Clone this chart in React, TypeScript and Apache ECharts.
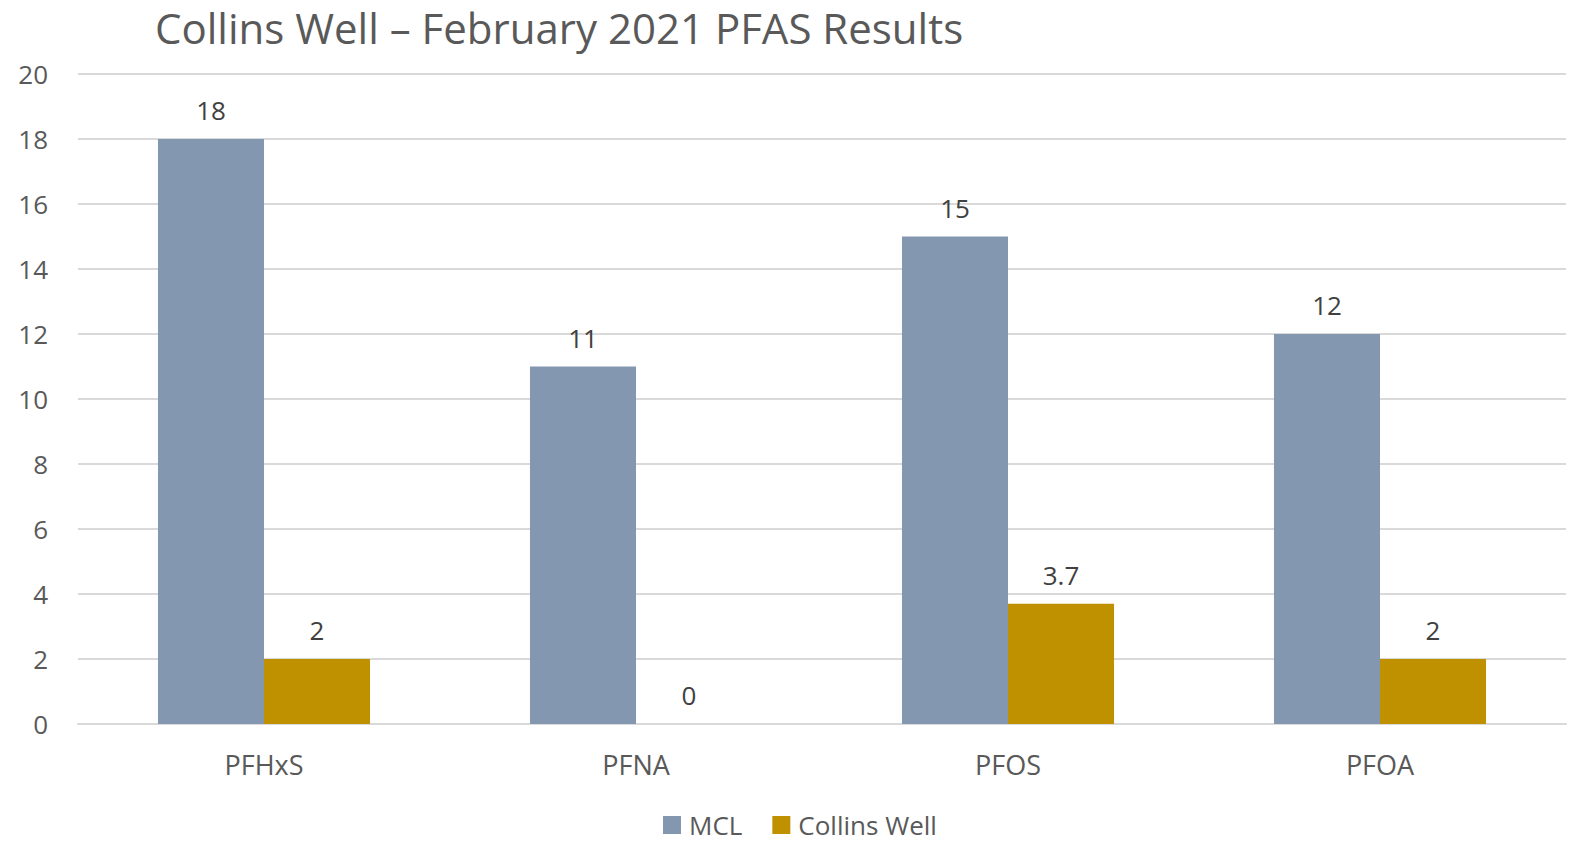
import React, { useEffect, useRef } from "react";
import * as echarts from "echarts";

const categories = ["PFHxS", "PFNA", "PFOS", "PFOA"];
const mclValues = [18, 11, 15, 12];
const collinsValues = [2, 0, 3.7, 2];
const yTicks = { min: 0, max: 20, interval: 2 };

const FONT = "Open Sans";

export default function App() {
  const ref = useRef<HTMLDivElement>(null);
  useEffect(() => {
    const chart = echarts.init(ref.current!, null, { renderer: "svg" });
    chart.setOption({
      animation: false,
      textStyle: { fontFamily: FONT },
      title: {
        text: "Collins Well – February 2021 PFAS Results",
        left: 155,
        top: 4,
        padding: 0,
        textStyle: { fontFamily: FONT, fontSize: 42, lineHeight: 46, fontWeight: "normal", color: "#595959" },
      },
      legend: {
        top: 810,
        left: 663,
        padding: 0,
        itemWidth: 18,
        itemHeight: 18,
        itemGap: 30,
        icon: "rect",
        textStyle: { fontFamily: FONT, fontSize: 26, lineHeight: 30, color: "#595959", padding: [0, 0, 0, 3] },
        data: ["MCL", "Collins Well"],
      },
      grid: { left: 78, right: 3, top: 74, bottom: 119, containLabel: false },
      xAxis: {
        type: "category",
        data: categories,
        axisTick: { show: false },
        axisLine: { lineStyle: { color: "#d9d9d9", width: 2 } },
        axisLabel: { fontFamily: FONT, fontSize: 27, color: "#595959", margin: 27 },
      },
      yAxis: {
        type: "value",
        min: yTicks.min,
        max: yTicks.max,
        interval: yTicks.interval,
        axisLine: { show: false },
        axisTick: { show: false },
        splitLine: { lineStyle: { color: "#d9d9d9", width: 2 } },
        axisLabel: { fontFamily: FONT, fontSize: 26, color: "#595959", margin: 30 },
      },
      series: [
        {
          name: "MCL",
          type: "bar",
          data: mclValues,
          barGap: "0%",
          barCategoryGap: "43%",
          itemStyle: { color: "#8497B0" },
          label: { show: true, position: "top", distance: 16, fontFamily: FONT, fontSize: 26, color: "#404040" },
        },
        {
          name: "Collins Well",
          type: "bar",
          data: collinsValues,
          barGap: "0%",
          barCategoryGap: "43%",
          itemStyle: { color: "#BF9000" },
          label: { show: true, position: "top", distance: 16, fontFamily: FONT, fontSize: 26, color: "#404040" },
        },
      ],
    });
    return () => chart.dispose();
  }, []);
  return <div ref={ref} style={{ width: 1569, height: 843, position: "absolute", left: 0, top: 0 }} />;
}
